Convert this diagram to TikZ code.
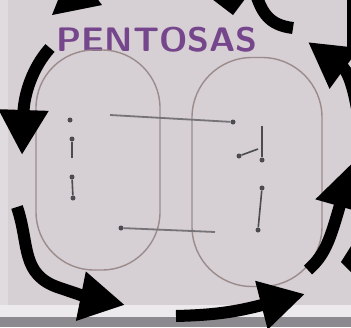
\documentclass[tikz,border=0pt]{standalone}
\usepackage{tikz}
\usetikzlibrary{arrows.meta,positioning}
\definecolor{paper}{RGB}{214,207,212}
\definecolor{paperlight}{RGB}{224,219,223}
\definecolor{paperedge}{RGB}{236,234,236}
\definecolor{tabledge}{RGB}{140,138,142}
\definecolor{titlepurple}{RGB}{118,70,140}
\definecolor{ovalline}{RGB}{155,140,140}
\definecolor{inkgray}{RGB}{75,75,80}
\definecolor{inkfaint}{RGB}{118,116,120}
\tikzset{
  ring/.style={draw=ovalline,line width=1.4pt,inner sep=0pt},
  bead/.style={circle,fill=inkgray,inner sep=0pt,minimum size=5pt},
  bond/.style={draw=inkgray,line width=1.6pt},
  link/.style={draw=inkfaint,line width=1.8pt},
  turn/.style={line width=12pt,draw=black,-{Triangle[length=45pt,width=47pt]}},
}
\begin{document}
\begin{tikzpicture}[x=1pt,y=-1pt]
  \useasboundingbox (0,0) rectangle (351,327);
  \clip (0,0) rectangle (351,327);
  % paper
  \fill[paper] (0,0) rectangle (351,327);
  \fill[paperlight] (0,0) rectangle (8,305);
  \fill[paperedge] (0,305) rectangle (351,317);
  \fill[tabledge] (0,317) rectangle (351,327);
  % title
  \node[font=\sffamily\bfseries\fontsize{34}{34}\selectfont,text=titlepurple,xscale=1.05] (title) at (157,40) {PENTOSAS};
  % the two rings
  \node[ring,rounded corners=58pt,minimum width=124pt,minimum height=220pt] (lring) at (98,160) {};
  \node[ring,rounded corners=60pt,minimum width=130pt,minimum height=229pt] (rring) at (257,172) {};
  % left ring marks
  \node[bead] (l1) at (70,120) {};
  \node[bead] (l2) at (72,139) {};
  \coordinate (l3) at (72,158);
  \node[bead] (l4) at (72,177) {};
  \node[bead] (l5) at (73,198) {};
  \draw[bond] (l2) -- (l3);
  \draw[bond] (l4) -- (l5);
  % right ring marks
  \coordinate (r0) at (262,126);
  \node[bead] (r1) at (239,156) {};
  \node[bead] (r2) at (262,160) {};
  \coordinate (r3) at (258,149);
  \node[bead] (r4) at (262,188) {};
  \node[bead] (r5) at (258,230) {};
  \draw[bond] (r0) -- (r2);
  \draw[bond] (r1) -- (r3);
  \draw[bond] (r4) -- (r5);
  % links across
  \coordinate (t0) at (110,115);
  \node[bead] (t1) at (233,122) {};
  \draw[link] (t0) -- (t1);
  \node[bead] (b0) at (121,228) {};
  \coordinate (b1) at (215,232);
  \draw[link] (b0) -- (b1);
  % cycle arrows
  \coordinate (a1s) at (50,48);
  \coordinate (a1e) at (22,155);
  \draw[turn] (a1s) .. controls (32,68) and (24,95) .. (a1e);
  \coordinate (a2s) at (17,207);
  \coordinate (a2m) at (60,288);
  \coordinate (a2e) at (125,305);
  \draw[turn] (a2s) .. controls (30,245) and (20,275) .. (a2m) .. controls (75,293) and (90,298) .. (a2e);
  \coordinate (a3s) at (176,316);
  \coordinate (a3e) at (305,294);
  \draw[turn] (a3s) .. controls (215,315) and (235,312) .. (a3e);
  \coordinate (a4s) at (308,270);
  \coordinate (a4e) at (352,163);
  \draw[turn] (a4s) .. controls (325,255) and (330,240) .. (a4e);
  \coordinate (a5s) at (363,160);
  \coordinate (a5e) at (308,42);
  \draw[turn] (a5s) .. controls (360,115) and (352,74) .. (a5e);
  \draw[line width=5pt] (349,0) -- (349,50);
  \coordinate (a6s) at (293,28);
  \coordinate (a6e) at (255,-8);
  \draw[line width=12pt] (a6s) .. controls (268,25) and (262,12) .. (a6e);
  \fill (212,-1) -- (245,-1) -- (233,15) -- cycle;
  \fill (52,15) -- (102,5) -- (72,-35) -- cycle;
  \fill (341,262) -- (353,243) -- (353,274) -- cycle;
\end{tikzpicture}
\end{document}
